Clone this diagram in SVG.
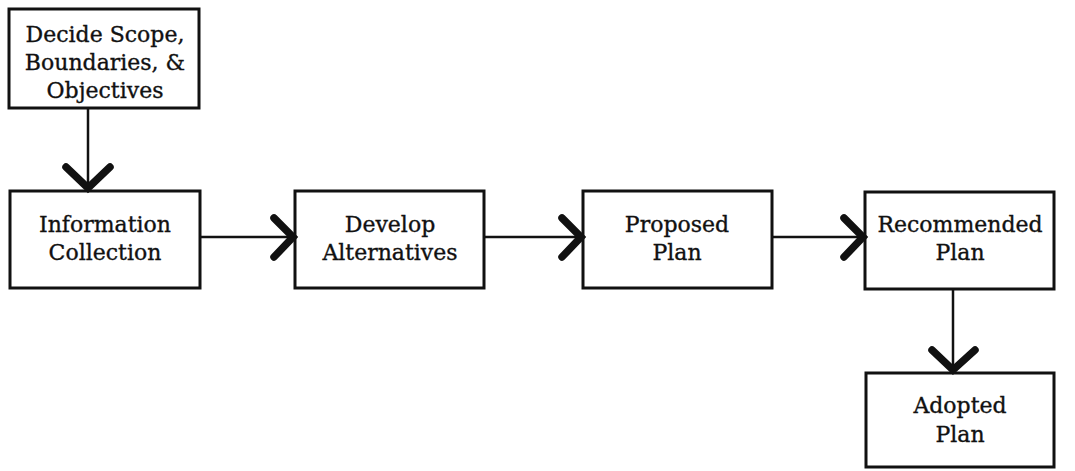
<svg xmlns="http://www.w3.org/2000/svg" width="1075" height="471" viewBox="0 0 1075 471">
<style>
.box{fill:#fff;stroke:#111;stroke-width:3}
.lbl{font-family:"DejaVu Serif","Liberation Serif",serif;font-size:22px;fill:#111;stroke:#111;stroke-width:0.35;text-anchor:middle}
.ln{stroke:#111;stroke-width:2.5;fill:none}
.hd{stroke:#111;stroke-width:7.5;fill:none;stroke-linecap:round;stroke-linejoin:miter}
</style>
<rect width="1075" height="471" fill="#fff"/>
<g id="n1"><rect class="box" x="9" y="9" width="190" height="99"/>
<text class="lbl" x="105" y="42">Decide Scope,</text><text class="lbl" x="105" y="70">Boundaries, &amp;</text><text class="lbl" x="105" y="98">Objectives</text></g>
<g id="n2"><rect class="box" x="10" y="191" width="190" height="97"/>
<text class="lbl" x="105" y="232">Information</text><text class="lbl" x="105" y="260">Collection</text></g>
<g id="n3"><rect class="box" x="295" y="191" width="189" height="97"/>
<text class="lbl" x="390" y="232">Develop</text><text class="lbl" x="390" y="260">Alternatives</text></g>
<g id="n4"><rect class="box" x="583" y="191" width="189" height="97"/>
<text class="lbl" x="677" y="232">Proposed</text><text class="lbl" x="677" y="260">Plan</text></g>
<g id="n5"><rect class="box" x="865" y="192" width="189" height="97"/>
<text class="lbl" x="960" y="232">Recommended</text><text class="lbl" x="960" y="260">Plan</text></g>
<g id="n6"><rect class="box" x="866" y="373" width="188" height="94"/>
<text class="lbl" x="960" y="413">Adopted</text><text class="lbl" x="960" y="442">Plan</text></g>
<g id="connectors">
<line class="ln" x1="88" y1="108" x2="88" y2="189"/><polyline class="hd" points="66,167 88,188 110,167"/>
<line class="ln" x1="200" y1="237" x2="293" y2="237"/><polyline class="hd" points="274,218 293,237 274,257"/>
<line class="ln" x1="484" y1="237" x2="581" y2="237"/><polyline class="hd" points="562,218 581,237 562,257"/>
<line class="ln" x1="772" y1="237" x2="863" y2="237"/><polyline class="hd" points="844,218 863,237 844,257"/>
<line class="ln" x1="953" y1="289" x2="953" y2="371"/><polyline class="hd" points="932,350 953,370 975,350"/>
</g>
</svg>
